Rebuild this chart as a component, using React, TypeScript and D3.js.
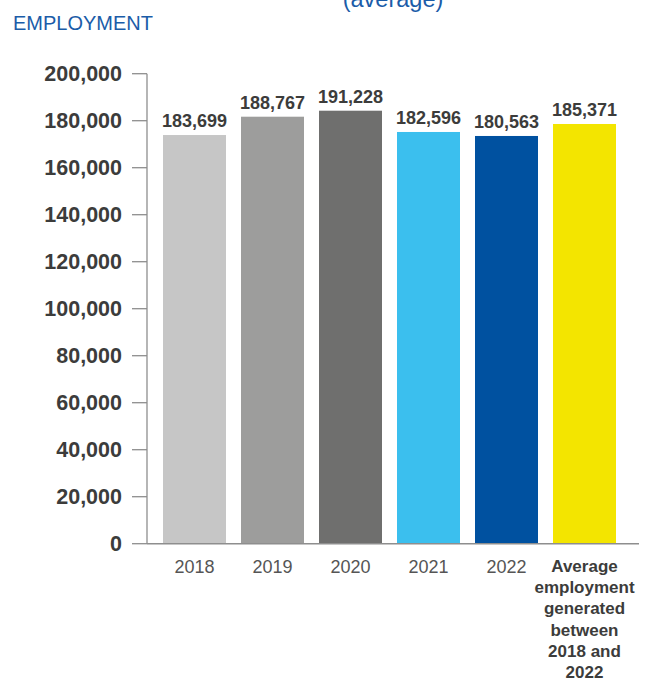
import React from "react";
import * as d3 from "d3";

const categories = ["2018", "2019", "2020", "2021", "2022", "Average"];
const valueLabels = ["183,699", "188,767", "191,228", "182,596", "180,563", "185,371"];
// bar heights as drawn in the picture
const barValues = [173900, 181700, 184250, 175200, 173500, 178600];
const barColors = ["#c6c6c6", "#9d9d9c", "#6f6f6e", "#3bbfee", "#0051a0", "#f3e500"];
const yTicks = [0, 20000, 40000, 60000, 80000, 100000, 120000, 140000, 160000, 180000, 200000];
const avgLabelLines = ["Average", "employment", "generated", "between", "2018 and", "2022"];

const W = 645;
const H = 679;

export default function App() {
  const y = d3.scaleLinear().domain([0, 200000]).range([543.7, 73.7]);
  const x = d3
    .scaleBand<string>()
    .domain(categories)
    .range([155.5, 623.5])
    .paddingInner(15 / 78)
    .paddingOuter(7.5 / 78);
  const fmt = d3.format(",");
  const axisX = 147;
  const font = "'Liberation Sans', Arial, Helvetica, sans-serif";

  return (
    <svg
      width={W}
      height={H}
      style={{ position: "absolute", left: 0, top: 0, background: "#fff" }}
      fontFamily={font}
    >
      <text x={393} y={6.5} textAnchor="middle" fontSize={23.5} fill="#1b5ca8">
        (average)
      </text>
      <text x={13} y={29.5} fontSize={20} fill="#1b5ca8">
        EMPLOYMENT
      </text>

      {categories.map((c, i) => (
        <rect
          key={c}
          x={x(c)}
          y={y(barValues[i])}
          width={x.bandwidth()}
          height={y(0) - y(barValues[i])}
          fill={barColors[i]}
        />
      ))}

      {/* axes */}
      <line x1={axisX} x2={axisX} y1={y(200000)} y2={y(0)} stroke="#8e8e8e" strokeWidth={1.3} />
      <line x1={axisX} x2={639} y1={y(0)} y2={y(0)} stroke="#8e8e8e" strokeWidth={1.5} />
      {yTicks.map((t) => (
        <g key={t}>
          <line x1={132} x2={axisX} y1={y(t)} y2={y(t)} stroke="#8e8e8e" strokeWidth={1.3} />
          <text
            x={122}
            y={y(t)}
            dy="0.36em"
            textAnchor="end"
            fontSize={21.5}
            fontWeight="bold"
            fill="#3c3c3b"
          >
            {fmt(t)}
          </text>
        </g>
      ))}

      {categories.map((c, i) => (
        <text
          key={"v" + c}
          x={(x(c) as number) + x.bandwidth() / 2}
          y={y(barValues[i]) - 7.7}
          textAnchor="middle"
          fontSize={18}
          fontWeight="bold"
          fill="#3c3c3b"
        >
          {valueLabels[i]}
        </text>
      ))}

      {categories.slice(0, 5).map((c) => (
        <text
          key={"x" + c}
          x={(x(c) as number) + x.bandwidth() / 2}
          y={573}
          textAnchor="middle"
          fontSize={18}
          fill="#555"
        >
          {c}
        </text>
      ))}
      {avgLabelLines.map((l, i) => (
        <text
          key={"a" + i}
          x={(x("Average") as number) + x.bandwidth() / 2}
          y={571.8 + i * 21.3}
          textAnchor="middle"
          fontSize={17}
          fontWeight="bold"
          fill="#3c3c3b"
        >
          {l}
        </text>
      ))}
    </svg>
  );
}
